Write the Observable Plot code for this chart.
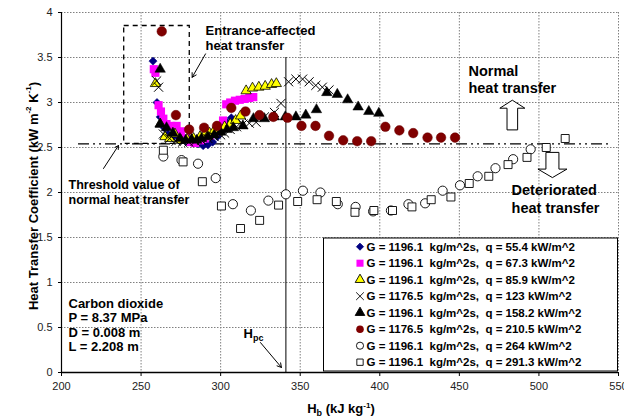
<!DOCTYPE html>
<html><head><meta charset="utf-8">
<script src="https://cdn.jsdelivr.net/npm/d3@7"></script>
<script src="https://cdn.jsdelivr.net/npm/@observablehq/plot@0.6"></script>
<style>
body{margin:0;background:#fff;overflow:hidden}
</style></head><body><div id="chart"></div>
<script>
// ---- data (H_b in kJ/kg, HTC in kW m^-2 K^-1) ----
const xTicks = [200, 250, 300, 350, 400, 450, 500, 550];
const yTicks = [0, 0.5, 1, 1.5, 2, 2.5, 3, 3.5, 4];
const legendLabels = [
  "G = 1196.1  kg/m^2s,  q = 55.4 kW/m^2",
  "G = 1196.1  kg/m^2s,  q = 67.3 kW/m^2",
  "G = 1196.1  kg/m^2s,  q = 85.9 kW/m^2",
  "G = 1176.5  kg/m^2s,  q = 123 kW/m^2",
  "G = 1196.1  kg/m^2s,  q = 158.2 kW/m^2",
  "G = 1176.5  kg/m^2s,  q = 210.5 kW/m^2",
  "G = 1196.1  kg/m^2s,  q = 264 kW/m^2",
  "G = 1196.1  kg/m^2s,  q = 291.3 kW/m^2"
];
const q55 = [[257.5,3.46],[260,3.0],[262,2.84],[264.5,2.72],[267,2.65],[270,2.62],[274,2.6],[278,2.57],[282,2.55],[285.8,2.54],[289,2.52],[292,2.53],[295,2.56],[298,2.62],[301.4,2.72],[304,2.78],[306.7,2.83]];
const q67 = [[258,3.37],[259,3.33],[261,2.97],[262.5,2.9],[264,2.82],[266,2.76],[269,2.74],[272.3,2.74],[275,2.68],[278,2.6],[281,2.56],[284,2.55],[287,2.58],[290,2.6],[293,2.63],[296,2.66],[299,2.72],[301.5,2.8],[303.5,2.98],[306,3.0],[309,3.02],[312,3.03],[315,3.04],[318,3.05],[320.5,3.06]];
const q86 = [[259,3.21],[262,2.76],[265,2.62],[268,2.6],[271.3,2.65],[275,2.58],[279,2.59],[283,2.6],[287,2.62],[290,2.64],[293,2.66],[296,2.69],[299,2.7],[302.5,2.73],[306,2.76],[309.4,2.8],[312.5,2.85],[316,3.13],[320,3.16],[324,3.17],[328,3.18],[332,3.2],[335,3.21]];
const q123 = [[259.8,3.24],[261,3.17],[264,2.65],[268,2.6],[272,2.57],[276,2.56],[280,2.56],[284,2.57],[288,2.58],[292,2.6],[296,2.62],[300,2.64],[302.5,2.66],[306,2.7],[310,2.73],[314,2.76],[318,2.77],[322.3,2.78],[327.5,2.84],[333.8,2.89],[337.9,2.99],[342.7,3.23],[347.3,3.26],[351.5,3.26],[355.6,3.23],[359.8,3.19],[363.9,3.17],[368.1,3.14]];
const q158 = [[262,3.37],[262,2.76],[266,2.72],[270,2.66],[274.4,2.6],[278,2.58],[281.7,2.59],[285,2.58],[288,2.6],[292,2.62],[296,2.64],[300,2.67],[304,2.7],[308,2.72],[314,2.74],[320.6,2.82],[327.5,2.82],[333.8,2.84],[340.6,2.84],[347.3,2.84],[353.5,2.86],[360.2,2.92],[366.7,3.11],[373.3,3.09],[379.8,3.03],[386.4,2.95],[393.1,2.9],[399.4,2.88]];
const q210 = [[263,3.79],[271.9,2.86],[280.2,2.7],[289.6,2.72],[297.7,2.74],[306.7,2.94],[315.6,2.9],[324.4,2.86],[333.1,2.84],[342,2.83],[350.8,2.74],[359.6,2.74],[368.1,2.63],[377,2.58],[385.8,2.57],[394.6,2.57],[403.5,2.73],[412.3,2.69],[421,2.66],[430,2.61],[438.5,2.61],[447.3,2.61]];
const q264 = [[264,2.4],[275.4,2.36],[285.8,2.32],[296.9,2.16],[307.7,1.87],[319,1.8],[330,1.91],[341,1.98],[351.7,2.02],[362.7,2.0],[373.6,1.87],[384.8,1.84],[395.8,1.79],[407,1.8],[418,1.87],[428.5,1.88],[439.5,2.02],[450.4,2.08],[461.5,2.18],[472.7,2.27],[483.8,2.37],[494.8,2.48]];
const q291 = [[264,2.47],[276.4,2.34],[288.5,2.12],[300.5,1.85],[312.5,1.6],[324.5,1.69],[336.4,1.86],[348.4,1.9],[360.6,1.92],[372.7,1.9],[384.4,1.78],[396.3,1.8],[408,1.8],[420.2,1.84],[432.3,1.92],[444.7,1.95],[456.2,2.1],[468.5,2.18],[480.6,2.31],[492.5,2.39],[504.6,2.5],[516.5,2.6]];
const thresholdHTC = 2.54;
const Hpc = 341;

const font = "'Liberation Sans', Arial, sans-serif";
const W = 624, H = 420, mL = 61, mR = 6, mT = 12, mB = 48;
const grid = {stroke: "#808080", strokeOpacity: 1, strokeDasharray: "1.5,1.5", strokeWidth: 1};
const px = d => d[0], py = d => d[1];

const plot = Plot.plot({
  width: W, height: H,
  marginLeft: mL, marginRight: mR, marginTop: mT, marginBottom: mB,
  style: {fontFamily: font, fontSize: "11px", background: "#fff", color: "#000", overflow: "visible"},
  x: {domain: [200, 550], label: null},
  y: {domain: [0, 4], label: null},
  marks: [
    Plot.gridX(xTicks.slice(1), grid),
    Plot.gridY(yTicks.slice(1), grid),
    Plot.axisX(xTicks, {tickSize: 4, tickPadding: 6, fontSize: 11, label: null, fill: "#222"}),
    Plot.axisY(yTicks, {tickSize: 3, tickPadding: 6, fontSize: 11, label: null, tickFormat: d => String(d), fill: "#222"}),
    Plot.ruleY([0], {x1: 200, x2: 550, stroke: "#000", strokeWidth: 1.5}),
    Plot.ruleX([200], {y1: 0, y2: 4, stroke: "#000", strokeWidth: 1.2}),
    // threshold dash-dot line
    Plot.ruleY([thresholdHTC], {x1: 210.7, x2: 546, stroke: "#000", strokeWidth: 1.2, strokeDasharray: "11,4,2,4,2,4"}),
    // entrance-affected box
    Plot.rect([0], {x1: 239.4, x2: 280.6, y1: 2.54, y2: 3.85, fill: "none", stroke: "#000", strokeWidth: 1.3, strokeDasharray: "5,4"}),
    // H_pc line
    Plot.ruleX([Hpc], {y1: 0, y2: 3.5, stroke: "#000", strokeWidth: 1}),
    // annotation texts
    Plot.text(["Entrance-affected\nheat transfer"], {x: 290.5, y: 3.724, textAnchor: "start", fontWeight: "bold", fontSize: 13, lineHeight: 1.15, fill: "#000"}),
    Plot.text(["Normal\nheat transfer"], {x: 455.7, y: 3.261, textAnchor: "start", fontWeight: "bold", fontSize: 14.5, lineHeight: 1.17, fill: "#000"}),
    Plot.text(["Deteriorated\nheat transfer"], {x: 482.8, y: 1.939, textAnchor: "start", fontWeight: "bold", fontSize: 14.5, lineHeight: 1.27, fill: "#000"}),
    Plot.text(["Threshold value of\nnormal heat transfer"], {x: 204.4, y: 2.006, textAnchor: "start", fontWeight: "bold", fontSize: 12.5, lineHeight: 1.2, fill: "#000"}),
    Plot.text(["Carbon dioxide\nP = 8.37 MPa\nD = 0.008 m\nL = 2.208 m"], {x: 204.4, y: 0.531, textAnchor: "start", fontWeight: "bold", fontSize: 13, lineHeight: 1.115, fill: "#000"}),
    // annotation arrows
    Plot.arrow([0], {x1: 290.5, y1: 3.54, x2: 282.1, y2: 3.28, stroke: "#000", strokeWidth: 1, headLength: 7}),
    Plot.arrow([0], {x1: 226.4, y1: 2.267, x2: 235.8, y2: 2.522, stroke: "#000", strokeWidth: 1, headLength: 6}),
    Plot.arrow([0], {x1: 325.0, y1: 0.333, x2: 338.2, y2: 0.056, stroke: "#000", strokeWidth: 1, headLength: 7}),
    // data series
    Plot.dot(q55, {x: px, y: py, symbol: "diamond2", r: 3.7, fill: "#000080", stroke: "#000080", strokeWidth: 0.5}),
    Plot.dot(q67, {x: px, y: py, symbol: "square", r: 4.6, fill: "#FF00FF"}),
    Plot.dot(q86, {x: px, y: py, symbol: "triangle", r: 3.8, fill: "#FFFF00", stroke: "#000", strokeWidth: 0.8}),
    Plot.dot(q123, {x: px, y: py, symbol: "times", r: 4.2, fill: "none", stroke: "#000", strokeWidth: 1}),
    Plot.dot(q158, {x: px, y: py, symbol: "triangle", r: 3.9, fill: "#000", stroke: "#000", strokeWidth: 0.5}),
    Plot.dot(q210, {x: px, y: py, symbol: "circle", r: 4.8, fill: "#800000", stroke: "#6b0000", strokeWidth: 0.5}),
    Plot.dot(q264, {x: px, y: py, symbol: "circle", r: 4.6, fill: "#fff", stroke: "#000", strokeWidth: 0.9}),
    Plot.dot(q291, {x: px, y: py, symbol: "square", r: 4.5, fill: "#fff", stroke: "#000", strokeWidth: 0.9})
  ]
});
document.getElementById("chart").appendChild(plot);

// ---- pixel helpers (matching plot scales) ----
const sx = v => mL + (v - 200) * (W - mL - mR) / 350;
const sy = v => (H - mB) - v * (H - mB - mT) / 4;
const svg = d3.select(plot);

// hollow block arrows
function blockArrow(xc, yTip, yEnd, headHalf, shaftHalf, headLen) {
  const cx = sx(xc), t = sy(yTip), e = sy(yEnd);
  const dir = e > t ? 1 : -1;
  const hb = t + dir * headLen;
  const pts = [[cx, t], [cx + headHalf, hb], [cx + shaftHalf, hb], [cx + shaftHalf, e], [cx - shaftHalf, e], [cx - shaftHalf, hb], [cx - headHalf, hb]];
  svg.append("path").attr("d", "M" + pts.map(p => p.join(",")).join("L") + "Z")
    .attr("fill", "#fff").attr("stroke", "#000").attr("stroke-width", 1);
}
blockArrow(483.6, 3.02, 2.69, 12.5, 5.3, 8);
blockArrow(508.8, 2.16, 2.44, 14.5, 6.5, 8.5);

// H_pc label
const hpc = svg.append("text").attr("x", 243.5).attr("y", 338).attr("text-anchor", "start").attr("font-family", font)
  .attr("font-weight", "bold").attr("font-size", 13).attr("fill", "#000");
hpc.append("tspan").text("H");
hpc.append("tspan").attr("font-size", 9).attr("dy", 3).text("pc");

// x axis title
const xt = svg.append("text").attr("x", 341).attr("y", 413).attr("text-anchor", "middle")
  .attr("font-family", font).attr("font-weight", "bold").attr("font-size", 13).attr("fill", "#000");
xt.append("tspan").text("H");
xt.append("tspan").attr("font-size", 9).attr("dy", 3).text("b");
xt.append("tspan").attr("dy", -3).text(" (kJ kg");
xt.append("tspan").attr("font-size", 8).attr("dy", -5).text("-1");
xt.append("tspan").attr("dy", 5).text(")");

// y axis title
const yt = svg.append("text").attr("transform", "translate(33,196) rotate(-90)").attr("text-anchor", "middle")
  .attr("dominant-baseline", "central")
  .attr("font-family", font).attr("font-weight", "bold").attr("font-size", 13).attr("fill", "#000");
yt.append("tspan").text("Heat Transfer Coefficient (kW m");
yt.append("tspan").attr("font-size", 8).attr("dy", -5).text("-2");
yt.append("tspan").attr("dy", 5).text(" K");
yt.append("tspan").attr("font-size", 8).attr("dy", -5).text("-1");
yt.append("tspan").attr("dy", 5).text(")");

// legend
const lg = svg.append("g").attr("text-anchor", "start");
lg.append("rect").attr("x", 323.5).attr("y", 238).attr("width", 294).attr("height", 133)
  .attr("fill", "#fff").attr("stroke", "#000").attr("stroke-width", 1);
const legendSym = [
  {t: d3.symbolDiamond2, s: 32, fill: "#000080", stroke: "#000080"},
  {t: d3.symbolSquare, s: 50, fill: "#FF00FF", stroke: "none"},
  {t: d3.symbolTriangle, s: 40, fill: "#FFFF00", stroke: "#000"},
  {t: d3.symbolTimes, s: 40, fill: "none", stroke: "#000"},
  {t: d3.symbolTriangle, s: 40, fill: "#000", stroke: "#000"},
  {t: d3.symbolCircle, s: 45, fill: "#800000", stroke: "none"},
  {t: d3.symbolCircle, s: 40, fill: "#fff", stroke: "#000"},
  {t: d3.symbolSquare, s: 40, fill: "#fff", stroke: "#000"}
];
legendLabels.forEach((lab, i) => {
  const cy = 246.7 + i * 16.5;
  const s = legendSym[i];
  lg.append("path").attr("d", d3.symbol(s.t, s.s)()).attr("transform", `translate(360,${cy})`)
    .attr("fill", s.fill).attr("stroke", s.stroke).attr("stroke-width", 0.9);
  lg.append("text").attr("x", 366.5).attr("y", cy).attr("text-anchor", "start").attr("dominant-baseline", "central")
    .attr("font-family", font).attr("font-weight", "bold").attr("font-size", 11.5)
    .attr("fill", "#000").style("white-space", "pre").text(lab);
});
</script>
</body></html>
